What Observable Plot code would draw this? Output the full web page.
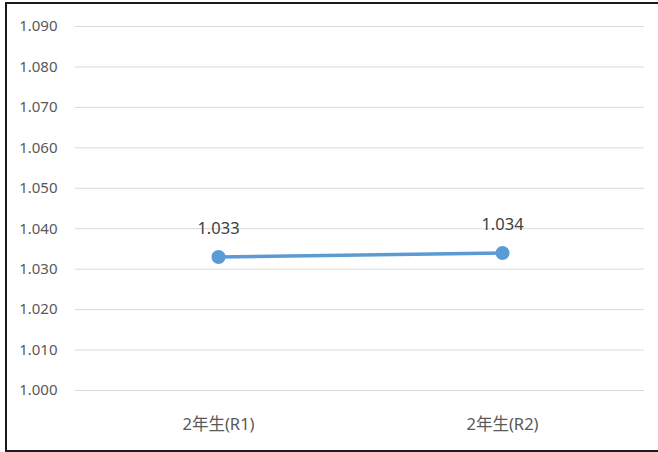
<!DOCTYPE html>
<html>
<head>
<meta charset="utf-8">
<script src="https://cdn.jsdelivr.net/npm/d3@7"></script>
<script src="https://cdn.jsdelivr.net/npm/@observablehq/plot@0.6"></script>
<style>
  html, body { margin: 0; padding: 0; background: #fff; overflow: hidden; }
  #wrap { position: relative; width: 658px; height: 452px; overflow: hidden; }
  #frame {
    position: absolute; left: 5px; top: 2px; width: 660px; height: 450px;
    box-sizing: border-box; border: 2px solid #1a1a1a; pointer-events: none;
  }
  #wrap svg { position: absolute; left: 0; top: 0; }
</style>
</head>
<body>
<div id="wrap"><div id="frame"></div></div>
<script>
// Grade cohorts and their measured values
const grades = ["2年生(R1)", "2年生(R2)"];
const values = [1.033, 1.034];
// Y axis ticks
const yTicks = [1.000, 1.010, 1.020, 1.030, 1.040, 1.050, 1.060, 1.070, 1.080, 1.090];

const data = grades.map((g, i) => ({grade: g, value: values[i]}));
const fmt = d3.format(".3f");

const chart = Plot.plot({
  width: 658,
  height: 452,
  marginLeft: 75,
  marginRight: 14,
  marginTop: 26,
  marginBottom: 62,
  style: {fontFamily: "'Noto Sans', 'Noto Sans CJK JP', sans-serif", background: "transparent"},
  x: {type: "point", domain: grades, padding: 0.5, label: null},
  y: {domain: [1.0, 1.09], label: null},
  marks: [
    Plot.gridY(yTicks, {stroke: "#d9d9d9", strokeOpacity: 1, strokeWidth: 1}),
    Plot.axisY(yTicks, {tickSize: 0, tickPadding: 18, tickFormat: fmt, fontSize: 15, fill: "#595959"}),
    Plot.axisX({tickSize: 0, tickPadding: 28, fontSize: 16.5, fill: "#595959", fontFamily: "'Noto Sans', 'Noto Sans CJK JP', sans-serif"}),
    Plot.line(data, {x: "grade", y: "value", stroke: "#5B9BD5", strokeWidth: 3.5}),
    Plot.dot(data, {x: "grade", y: "value", r: 7, fill: "#5B9BD5"}),
    Plot.text(data, {x: "grade", y: "value", text: d => fmt(d.value), dy: -28, fontSize: 16.5, fill: "#404040"})
  ]
});

document.getElementById("wrap").prepend(chart);
</script>
</body>
</html>
